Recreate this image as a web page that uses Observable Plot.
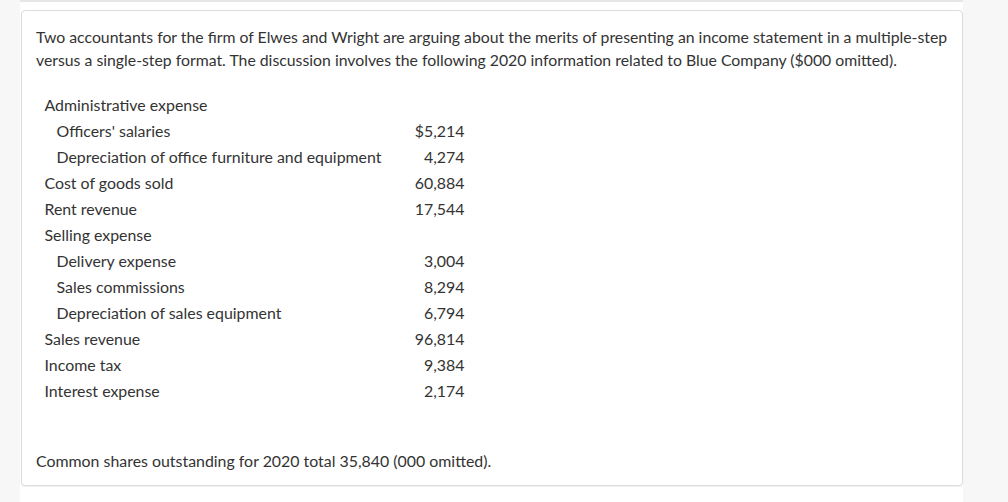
<!DOCTYPE html>
<html>
<head>
<meta charset="utf-8">
<script src="https://cdn.jsdelivr.net/npm/d3@7"></script>
<script src="https://cdn.jsdelivr.net/npm/@observablehq/plot@0.6"></script>
<style>
  html, body { margin: 0; padding: 0; width: 1008px; height: 502px; overflow: hidden; background: #f7f7f7; font-family: Lato, "Open Sans", sans-serif; }
  #strip { position: absolute; left: 20px; top: 0; width: 943px; height: 502px; background: #ffffff; border-top: 2px solid #e6e6e6; box-sizing: border-box; }
  #card { position: absolute; left: 21px; top: 10px; width: 942px; height: 476px; background: #fff; border: 1px solid #dcdcdc; border-radius: 4px; box-sizing: border-box; box-shadow: 0 1px 1px rgba(0,0,0,0.06); }
  .txt { position: absolute; left: 36px; color: #333; font-size: 16px; line-height: 23px; white-space: nowrap; font-family: Lato, sans-serif; }
  #chart { position: absolute; left: 0; top: 0; }
</style>
</head>
<body>
<div id="strip"></div>
<div id="card"></div>
<div class="txt" id="intro" style="top:25px; font-size:15.8px;">Two accountants for the firm of Elwes and Wright are arguing about the merits of presenting an income statement in a multiple-step<br>versus a single-step format. The discussion involves the following 2020 information related to Blue Company ($000 omitted).</div>
<div id="chart"></div>
<div class="txt" id="note" style="top:449px; font-size:15.9px;">Common shares outstanding for 2020 total 35,840 (000 omitted).</div>
<script>
const labels = [
  "Administrative expense",
  "Officers' salaries",
  "Depreciation of office furniture and equipment",
  "Cost of goods sold",
  "Rent revenue",
  "Selling expense",
  "Delivery expense",
  "Sales commissions",
  "Depreciation of sales equipment",
  "Sales revenue",
  "Income tax",
  "Interest expense"
];
const levels = [0, 1, 1, 0, 0, 0, 1, 1, 1, 0, 0, 0];
const amounts = [null, 5214, 4274, 60884, 17544, null, 3004, 8294, 6794, 96814, 9384, 2174];
const prefixes = ["", "$", "", "", "", "", "", "", "", "", "", ""];

const rows = labels.map((label, i) => ({
  label,
  level: levels[i],
  amount: amounts[i],
  text: amounts[i] == null ? "" : prefixes[i] + d3.format(",")(amounts[i])
}));
const valueCol = 35; // column position in indent units

const chart = Plot.plot({
  width: 1008,
  height: 502,
  margin: 0,
  style: { background: "transparent", fontFamily: "Lato, sans-serif", overflow: "visible" },
  x: { type: "linear", domain: [0, valueCol], range: [44, 464], axis: null },
  y: { type: "band", domain: labels, range: [92, 404], padding: 0, axis: null },
  marks: [
    Plot.text(rows, { x: "level", y: "label", text: "label", textAnchor: "start", fill: "#333", fontSize: 15.9 }),
    Plot.text(rows.filter(d => d.amount != null), { x: () => valueCol, y: "label", text: "text", textAnchor: "end", fill: "#333", fontSize: 15.9 })
  ]
});
document.getElementById("chart").appendChild(chart);
</script>
</body>
</html>
